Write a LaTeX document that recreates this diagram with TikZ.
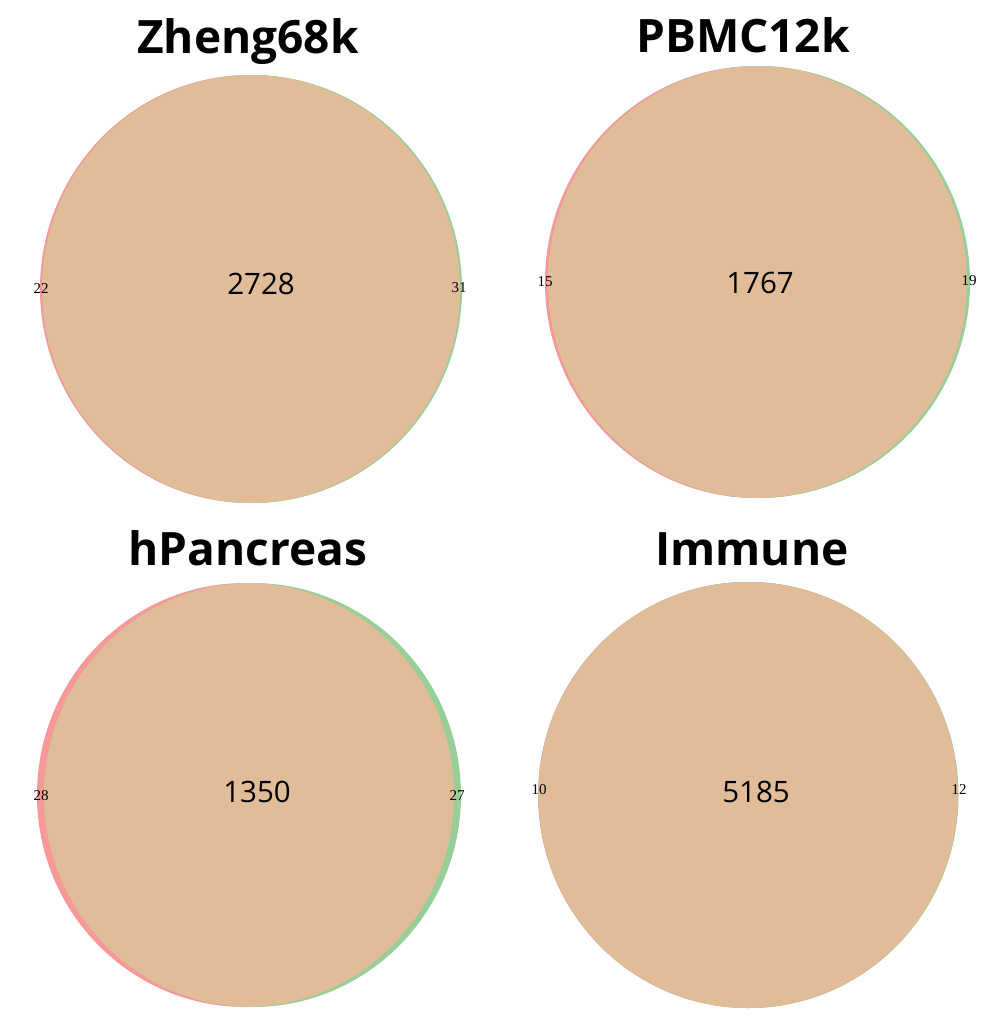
\documentclass[tikz,border=0pt]{standalone}
\usepackage{fontspec}
\setmainfont{Open Sans}
\newfontfamily\smallserif{Liberation Serif}
\definecolor{vpink}{RGB}{248,152,152}
\definecolor{vgreen}{RGB}{152,206,152}
\definecolor{vbeige}{RGB}{224,188,152}
\tikzset{
  titletxt/.style={font=\fontsize{46}{50}\selectfont\bfseries, anchor=base, inner sep=0pt},
  midtxt/.style={font=\fontsize{29.5}{32}\selectfont, inner sep=0pt},
  sidetxt/.style={font=\smallserif\fontsize{15}{16}\selectfont, inner sep=0pt},
}
\newcommand{\venn}[6]{% pink cx, green cx, cy, rx, ry, name
  \fill[vpink] (#1,#3) ellipse [x radius=#4, y radius=#5];
  \fill[vgreen] (#2,#3) ellipse [x radius=#4, y radius=#5];
  \begin{scope}
    \clip (#1,#3) ellipse [x radius=#4, y radius=#5];
    \fill[vbeige] (#2,#3) ellipse [x radius=#4, y radius=#5];
  \end{scope}
}
\begin{document}
\begin{tikzpicture}[x=1pt,y=-1pt]
\useasboundingbox (0,0) rectangle (996,1020);
\fill[white] (0,0) rectangle (996,1020);
% Panel 1
\venn{250}{252}{289}{210}{214}{a}
\node[titletxt] (t1) at (248,53) {Zheng68k};
\node[midtxt] (m1) at (261,284) {2728};
\node[sidetxt] (l1) at (41,289) {22};
\node[sidetxt] (r1) at (459,288) {31};
% Panel 2
\venn{756}{759}{282}{211}{216}{b}
\node[titletxt] (t2) at (743,52) {PBMC12k};
\node[midtxt] (m2) at (760,283) {1767};
\node[sidetxt] (l2) at (545,282) {15};
\node[sidetxt] (r2) at (969,281) {19};
% Panel 3
\venn{245.5}{252.5}{795}{208.5}{212}{c}
\node[titletxt] (t3) at (248,565) {hPancreas};
\node[midtxt] (m3) at (257,792) {1350};
\node[sidetxt] (l3) at (41,796) {28};
\node[sidetxt] (r3) at (457,796) {27};
% Panel 4
\venn{748}{748.5}{795}{210}{213}{d}
\node[titletxt] (t4) at (752,565) {Immune};
\node[midtxt] (m4) at (756,792) {5185};
\node[sidetxt] (l4) at (539,790) {10};
\node[sidetxt] (r4) at (959,790) {12};
\end{tikzpicture}
\end{document}
